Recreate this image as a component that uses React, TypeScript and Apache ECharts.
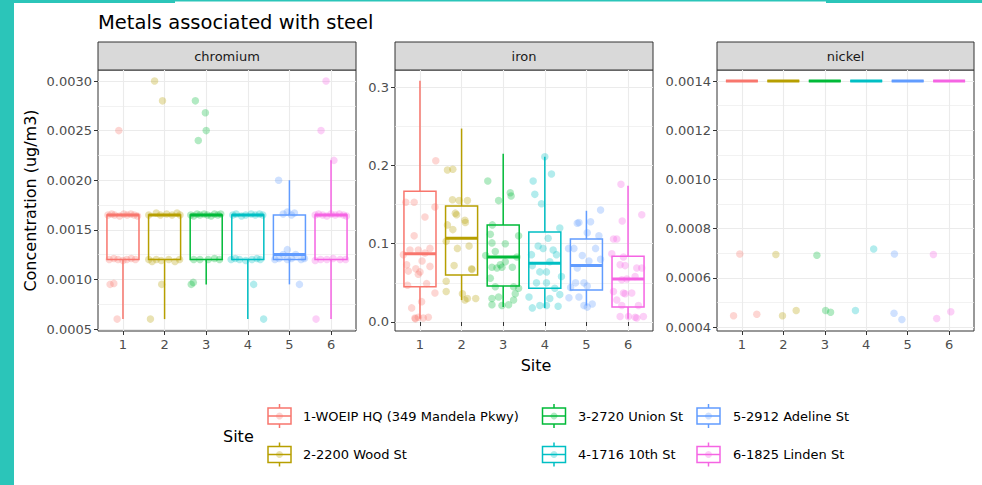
import React, { useEffect, useRef } from 'react';
import * as echarts from 'echarts';

const SITE_LABELS = [
  '1-WOEIP HQ (349 Mandela Pkwy)',
  '2-2200 Wood St',
  '3-2720 Union St',
  '4-1716 10th St',
  '5-2912 Adeline St',
  '6-1825 Linden St',
];
const COLORS = ['#F8766D', '#B79F00', '#00BA38', '#00BFC4', '#619CFF', '#F564E3'];
const METALS = ['chromium', 'iron', 'nickel'];
const X_TICKS = [1, 2, 3, 4, 5, 6];

// box stats per site: [lowerWhisker, q1, median, q3, upperWhisker]
const chromiumBoxes = [
  [0.0006, 0.0012, 0.00165, 0.00165, 0.00165],
  [0.0006, 0.0012, 0.00165, 0.00165, 0.00165],
  [0.00095, 0.0012, 0.00165, 0.00165, 0.00165],
  [0.0006, 0.0012, 0.00165, 0.00165, 0.00165],
  [0.00095, 0.0012, 0.00125, 0.00165, 0.002],
  [0.0006, 0.0012, 0.00165, 0.00165, 0.0022],
];
const ironBoxes = [
  [0.004, 0.045, 0.087, 0.167, 0.308],
  [0.028, 0.06, 0.107, 0.148, 0.247],
  [0.019, 0.046, 0.083, 0.124, 0.215],
  [0.018, 0.043, 0.075, 0.115, 0.211],
  [0.021, 0.041, 0.072, 0.106, 0.142],
  [0.004, 0.019, 0.055, 0.084, 0.174],
];
const nickelBoxes = [
  [0.0014, 0.0014, 0.0014, 0.0014, 0.0014],
  [0.0014, 0.0014, 0.0014, 0.0014, 0.0014],
  [0.0014, 0.0014, 0.0014, 0.0014, 0.0014],
  [0.0014, 0.0014, 0.0014, 0.0014, 0.0014],
  [0.0014, 0.0014, 0.0014, 0.0014, 0.0014],
  [0.0014, 0.0014, 0.0014, 0.0014, 0.0014],
];

// jittered observations per site: [x offset from site, value]
const chromiumPoints = [
  [[-0.36, 0.00165], [-0.27, 0.00166], [-0.2, 0.00165], [-0.08, 0.00164], [0.02, 0.00166], [0.1, 0.00165], [0.19, 0.00166], [0.27, 0.00165], [0.35, 0.00164],
   [-0.33, 0.0012], [-0.22, 0.00121], [-0.12, 0.0012], [0.0, 0.00119], [0.09, 0.0012], [0.2, 0.00121], [0.3, 0.0012],
   [-0.31, 0.00095], [-0.22, 0.00096], [-0.14, 0.0006], [-0.1, 0.0025]],
  [[-0.38, 0.00165], [-0.2, 0.00167], [-0.1, 0.00165], [0.05, 0.00166], [0.18, 0.00165], [0.3, 0.00167], [0.37, 0.00165],
   [-0.38, 0.0012], [-0.3, 0.00118], [-0.2, 0.0012], [-0.08, 0.00119], [0.1, 0.0012], [0.25, 0.00118], [0.36, 0.0012],
   [-0.24, 0.003], [-0.05, 0.0028], [-0.07, 0.00095], [-0.34, 0.0006]],
  [[-0.37, 0.00165], [-0.3, 0.00164], [-0.22, 0.00166], [-0.15, 0.00165], [-0.05, 0.00166], [0.03, 0.00165], [0.12, 0.00164], [0.2, 0.00166], [0.28, 0.00165], [0.35, 0.00166],
   [-0.3, 0.0012], [-0.15, 0.0012], [0.05, 0.0012], [0.2, 0.00121], [0.32, 0.0012],
   [-0.26, 0.0028], [-0.02, 0.00268], [0.0, 0.0025], [-0.19, 0.0024], [-0.36, 0.00095], [-0.31, 0.00097]],
  [[-0.36, 0.00165], [-0.28, 0.00166], [-0.15, 0.00164], [-0.05, 0.00165], [0.08, 0.00166], [0.18, 0.00165], [0.28, 0.00166], [0.36, 0.00165],
   [-0.4, 0.0012], [-0.3, 0.00121], [-0.2, 0.0012], [-0.05, 0.00119], [0.1, 0.0012], [0.22, 0.00121], [0.3, 0.0012],
   [0.14, 0.00095], [0.38, 0.0006]],
  [[-0.15, 0.00166], [-0.05, 0.00168], [0.05, 0.00165], [0.12, 0.00167],
   [-0.35, 0.0012], [-0.25, 0.00121], [-0.15, 0.00125], [-0.05, 0.0012], [0.05, 0.00121], [0.15, 0.00125], [0.28, 0.0012], [0.36, 0.00121],
   [-0.26, 0.002], [-0.05, 0.0013], [0.24, 0.00095]],
  [[-0.38, 0.00165], [-0.3, 0.00166], [-0.2, 0.00165], [-0.1, 0.00164], [0.0, 0.00166], [0.1, 0.00165], [0.2, 0.00166], [0.3, 0.00165], [0.37, 0.00164],
   [-0.38, 0.00119], [-0.25, 0.0012], [-0.1, 0.0012], [0.05, 0.00121], [0.22, 0.0012], [0.35, 0.0012],
   [-0.12, 0.003], [-0.24, 0.0025], [0.07, 0.0022], [-0.36, 0.0006]],
];
const ironPoints = [
  [[-0.34, 0.153], [-0.14, 0.153], [0.38, 0.206], [0.36, 0.147], [0.12, 0.134], [-0.4, 0.086], [-0.24, 0.092], [-0.04, 0.092],
   [0.24, 0.094], [-0.14, 0.11], [-0.28, 0.065], [-0.1, 0.068], [-0.04, 0.061], [0.0, 0.064], [0.12, 0.088], [0.16, 0.049],
   [-0.2, 0.018], [-0.12, 0.005], [-0.04, 0.006], [0.2, 0.006], [0.04, 0.026], [0.36, 0.037], [-0.32, 0.073], [0.24, 0.071],
   [-0.11, 0.004], [0.08, 0.005], [-0.3, 0.047], [0.05, 0.078]],
  [[-0.34, 0.194], [-0.21, 0.195], [-0.22, 0.156], [-0.06, 0.155], [0.14, 0.155], [-0.12, 0.137], [0.08, 0.13], [-0.21, 0.118],
   [0.18, 0.097], [-0.1, 0.094], [-0.18, 0.072], [0.24, 0.068], [-0.37, 0.052], [-0.37, 0.039], [0.02, 0.036], [0.14, 0.03],
   [0.34, 0.03], [0.08, 0.028], [-0.37, 0.103], [-0.34, 0.124], [-0.15, 0.139], [0.09, 0.127], [0.25, 0.067]],
  [[-0.37, 0.18], [0.17, 0.165], [0.19, 0.161], [-0.11, 0.155], [-0.26, 0.124], [-0.31, 0.112], [0.37, 0.11], [-0.27, 0.101],
   [0.05, 0.1], [-0.19, 0.09], [-0.42, 0.085], [0.05, 0.077], [-0.07, 0.073], [-0.27, 0.07], [-0.15, 0.069], [-0.03, 0.07],
   [0.22, 0.07], [0.33, 0.083], [-0.31, 0.056], [-0.19, 0.045], [0.25, 0.045], [-0.27, 0.03], [-0.11, 0.032], [0.29, 0.036],
   [-0.27, 0.022], [-0.03, 0.021], [0.13, 0.022], [0.37, 0.043], [0.25, 0.028]],
  [[0.0, 0.211], [0.16, 0.189], [-0.28, 0.18], [-0.24, 0.163], [-0.08, 0.151], [0.36, 0.12], [0.08, 0.107], [-0.16, 0.097],
   [-0.04, 0.094], [0.2, 0.092], [0.28, 0.086], [-0.32, 0.086], [0.12, 0.077], [-0.12, 0.064], [0.04, 0.064], [0.4, 0.058],
   [0.04, 0.05], [0.24, 0.043], [-0.2, 0.05], [0.36, 0.035], [0.12, 0.03], [-0.38, 0.032], [0.04, 0.021], [0.32, 0.02],
   [-0.12, 0.021], [-0.3, 0.018], [-0.3, 0.072]],
  [[0.34, 0.143], [-0.22, 0.126], [-0.18, 0.127], [0.1, 0.128], [0.02, 0.114], [0.3, 0.11], [-0.3, 0.094], [0.22, 0.094],
   [-0.1, 0.085], [0.06, 0.078], [0.34, 0.08], [-0.22, 0.069], [-0.26, 0.05], [-0.06, 0.05], [0.02, 0.046], [-0.38, 0.044],
   [-0.18, 0.032], [-0.06, 0.021], [0.14, 0.023], [0.02, 0.019], [-0.42, 0.031], [-0.43, 0.094]],
  [[-0.17, 0.176], [0.33, 0.137], [-0.14, 0.129], [-0.35, 0.106], [-0.27, 0.106], [-0.11, 0.083], [0.33, 0.069], [-0.39, 0.087],
   [-0.19, 0.073], [-0.07, 0.072], [0.21, 0.069], [0.17, 0.058], [-0.15, 0.054], [-0.03, 0.055], [-0.11, 0.037], [-0.07, 0.036],
   [0.09, 0.037], [-0.35, 0.039], [-0.27, 0.028], [-0.15, 0.021], [-0.19, 0.007], [0.01, 0.007], [0.17, 0.006], [0.21, 0.005],
   [0.37, 0.007], [0.25, 0.021]],
];
const nickelPoints = [
  [[-0.05, 0.000697], [-0.2, 0.000446], [0.36, 0.000452]],
  [[-0.18, 0.000695], [-0.02, 0.000446], [0.31, 0.000467]],
  [[-0.19, 0.000692], [0.02, 0.000467], [0.14, 0.00046]],
  [[0.18, 0.000717], [-0.26, 0.000467]],
  [[-0.32, 0.000697], [-0.33, 0.000456], [-0.14, 0.000431]],
  [[-0.38, 0.000695], [-0.3, 0.000435], [0.04, 0.000462]],
];

const chromiumTicks = [0.0005, 0.001, 0.0015, 0.002, 0.0025, 0.003];
const chromiumMinor = [0.00075, 0.00125, 0.00175, 0.00225, 0.00275];
const ironTicks = [0, 0.1, 0.2, 0.3];
const ironMinor = [0.05, 0.15, 0.25];
const nickelTicks = [0.0004, 0.0006, 0.0008, 0.001, 0.0012, 0.0014];
const nickelMinor = [0.0005, 0.0007, 0.0009, 0.0011, 0.0013];

const FONT = '"DejaVu Sans", "Liberation Sans", sans-serif';
const TEAL = '#2BC5B9';
const BOX_W = 0.77;

const PANELS = [
  { left: 98, width: 258, yMin: 0.00048, yMax: 0.003111, ticks: chromiumTicks, minor: chromiumMinor, digits: 4, boxes: chromiumBoxes, points: chromiumPoints },
  { left: 395, width: 258, yMin: -0.0115, yMax: 0.3218, ticks: ironTicks, minor: ironMinor, digits: 1, boxes: ironBoxes, points: ironPoints },
  { left: 717, width: 257, yMin: 0.000384, yMax: 0.001445, ticks: nickelTicks, minor: nickelMinor, digits: 4, boxes: nickelBoxes, points: nickelPoints },
];
const PANEL_TOP = 70;
const PANEL_H = 261;
const STRIP_TOP = 42;
const STRIP_H = 28;

function renderBox(params: any, api: any) {
  const x = api.value(0);
  const lo = api.value(1), q1 = api.value(2), med = api.value(3), q3 = api.value(4), hi = api.value(5);
  const color = COLORS[params.dataIndex % COLORS.length];
  const half = api.size([BOX_W, 0])[0] / 2;
  const pLo = api.coord([x, lo]);
  const pQ1 = api.coord([x, q1]);
  const pMed = api.coord([x, med]);
  const pQ3 = api.coord([x, q3]);
  const pHi = api.coord([x, hi]);
  const lw = 1.5;
  return {
    type: 'group',
    children: [
      { type: 'line', shape: { x1: pHi[0], y1: pHi[1], x2: pQ3[0], y2: pQ3[1] }, style: { stroke: color, lineWidth: lw } },
      { type: 'line', shape: { x1: pQ1[0], y1: pQ1[1], x2: pLo[0], y2: pLo[1] }, style: { stroke: color, lineWidth: lw } },
      { type: 'rect', shape: { x: pQ3[0] - half, y: pQ3[1], width: 2 * half, height: pQ1[1] - pQ3[1] }, style: { fill: 'transparent', stroke: color, lineWidth: lw } },
      { type: 'line', shape: { x1: pMed[0] - half, y1: pMed[1], x2: pMed[0] + half, y2: pMed[1] }, style: { stroke: color, lineWidth: 3 } },
    ],
  };
}

function legendKey(cx: number, cy: number, color: string) {
  const w = 23, h = 16;
  return {
    type: 'group',
    children: [
      { type: 'line', shape: { x1: cx, y1: cy - h / 2 - 4, x2: cx, y2: cy - h / 2 }, style: { stroke: color, lineWidth: 1.5 } },
      { type: 'line', shape: { x1: cx, y1: cy + h / 2, x2: cx, y2: cy + h / 2 + 4 }, style: { stroke: color, lineWidth: 1.5 } },
      { type: 'rect', shape: { x: cx - w / 2, y: cy - h / 2, width: w, height: h }, style: { fill: '#fff', stroke: color, lineWidth: 1.5 } },
      { type: 'line', shape: { x1: cx - w / 2, y1: cy, x2: cx + w / 2, y2: cy }, style: { stroke: color, lineWidth: 1.5 } },
      { type: 'circle', shape: { cx, cy, r: 3.5 }, style: { fill: color, opacity: 0.3 } },
    ],
  };
}

export default function App() {
  const ref = useRef<HTMLDivElement>(null);
  useEffect(() => {
    if (!ref.current) return;
    const chart = echarts.init(ref.current, null, { renderer: 'svg' });

    const grid: any[] = [];
    const xAxis: any[] = [];
    const yAxis: any[] = [];
    const series: any[] = [];
    const graphic: any[] = [];

    // decorative frame
    graphic.push({ type: 'rect', shape: { x: 0, y: 0, width: 14, height: 485 }, style: { fill: TEAL } });
    graphic.push({ type: 'rect', shape: { x: 0, y: 0, width: 175, height: 3 }, style: { fill: TEAL } });
    graphic.push({ type: 'rect', shape: { x: 175, y: 0, width: 651, height: 1.5 }, style: { fill: TEAL } });
    graphic.push({ type: 'rect', shape: { x: 826, y: 0, width: 156, height: 3 }, style: { fill: TEAL } });

    PANELS.forEach((p, i) => {
      grid.push({
        left: p.left, top: PANEL_TOP, width: p.width, height: PANEL_H,
        show: true, borderColor: '#333333', borderWidth: 1, backgroundColor: '#fff',
        containLabel: false, outerBoundsMode: 'none',
      });
      xAxis.push({
        type: 'value', gridIndex: i, min: 0.4, max: 6.6,
        axisLine: { show: false },
        axisTick: { show: true, length: 4, customValues: X_TICKS, lineStyle: { color: '#333333', width: 1 } },
        axisLabel: { customValues: X_TICKS, margin: 7, color: '#4D4D4D', fontSize: 13, fontFamily: FONT, formatter: (v: number) => String(Math.round(v)) },
        splitLine: { show: true, lineStyle: { color: '#EBEBEB', width: 1.1 } },
      });
      yAxis.push({
        type: 'value', gridIndex: i, min: p.yMin, max: p.yMax,
        axisLine: { show: false },
        axisTick: { show: true, length: 4, customValues: p.ticks, lineStyle: { color: '#333333', width: 1 } },
        axisLabel: { customValues: p.ticks, margin: 6, color: '#4D4D4D', fontSize: 13, fontFamily: FONT, formatter: (v: number) => v.toFixed(p.digits) },
        splitLine: { show: true, lineStyle: { color: '#EBEBEB', width: 1.1 } },
      });
      // strip header
      graphic.push({
        type: 'rect', shape: { x: p.left, y: STRIP_TOP, width: p.width, height: STRIP_H },
        style: { fill: '#D9D9D9', stroke: '#333333', lineWidth: 1 },
      });
      graphic.push({
        type: 'text', x: p.left + p.width / 2, y: STRIP_TOP + STRIP_H / 2 + 0.5,
        style: { text: METALS[i], fill: '#1A1A1A', font: `13px ${FONT}`, textAlign: 'center', textVerticalAlign: 'middle' },
      });
    });
    // minor grid axes
    PANELS.forEach((p, i) => {
      yAxis.push({
        type: 'value', gridIndex: i, min: p.yMin, max: p.yMax, position: 'left',
        axisLine: { show: false },
        axisTick: { show: false, customValues: p.minor },
        axisLabel: { show: false, customValues: p.minor },
        splitLine: { show: true, lineStyle: { color: '#ECECEC', width: 0.7 } },
      });
    });

    PANELS.forEach((p, i) => {
      p.points.forEach((pts, s) => {
        series.push({
          type: 'scatter', xAxisIndex: i, yAxisIndex: i, symbol: 'circle', symbolSize: 7.5,
          itemStyle: { color: COLORS[s], opacity: 0.3 },
          data: pts.map(([off, v]) => [s + 1 + off, v]),
          z: 2, silent: true,
        });
      });
      series.push({
        type: 'custom', xAxisIndex: i, yAxisIndex: i,
        renderItem: renderBox,
        encode: { x: 0, y: [1, 2, 3, 4, 5] },
        data: p.boxes.map((b, s) => [s + 1, ...b]),
        z: 3, silent: true,
      });
    });

    // titles
    graphic.push({
      type: 'text', x: 98, y: 22,
      style: { text: 'Metals associated with steel', fill: '#000', font: `19.5px ${FONT}`, textAlign: 'left', textVerticalAlign: 'middle' },
    });
    graphic.push({
      type: 'text', x: 30, y: 200.5, rotation: Math.PI / 2,
      style: { text: 'Concentration (ug/m3)', fill: '#000', font: `16px ${FONT}`, textAlign: 'center', textVerticalAlign: 'middle' },
    });
    graphic.push({
      type: 'text', x: 536, y: 365,
      style: { text: 'Site', fill: '#000', font: `16px ${FONT}`, textAlign: 'center', textVerticalAlign: 'middle' },
    });

    // legend
    graphic.push({
      type: 'text', x: 223, y: 436,
      style: { text: 'Site', fill: '#000', font: `16px ${FONT}`, textAlign: 'left', textVerticalAlign: 'middle' },
    });
    const keyX = [279.5, 554, 708.5];
    const textX = [303, 578, 733];
    const rowY = [416, 454.5];
    SITE_LABELS.forEach((label, s) => {
      const col = Math.floor(s / 2);
      const row = s % 2;
      graphic.push(legendKey(keyX[col], rowY[row], COLORS[s]));
      graphic.push({
        type: 'text', x: textX[col], y: rowY[row],
        style: { text: label, fill: '#000', font: `13px ${FONT}`, textAlign: 'left', textVerticalAlign: 'middle' },
      });
    });

    chart.setOption({
      animation: false,
      backgroundColor: '#fff',
      textStyle: { fontFamily: FONT },
      grid, xAxis, yAxis, series, graphic,
    });
    return () => chart.dispose();
  }, []);
  return <div ref={ref} style={{ position: 'absolute', left: 0, top: 0, width: 982, height: 485 }} />;
}
